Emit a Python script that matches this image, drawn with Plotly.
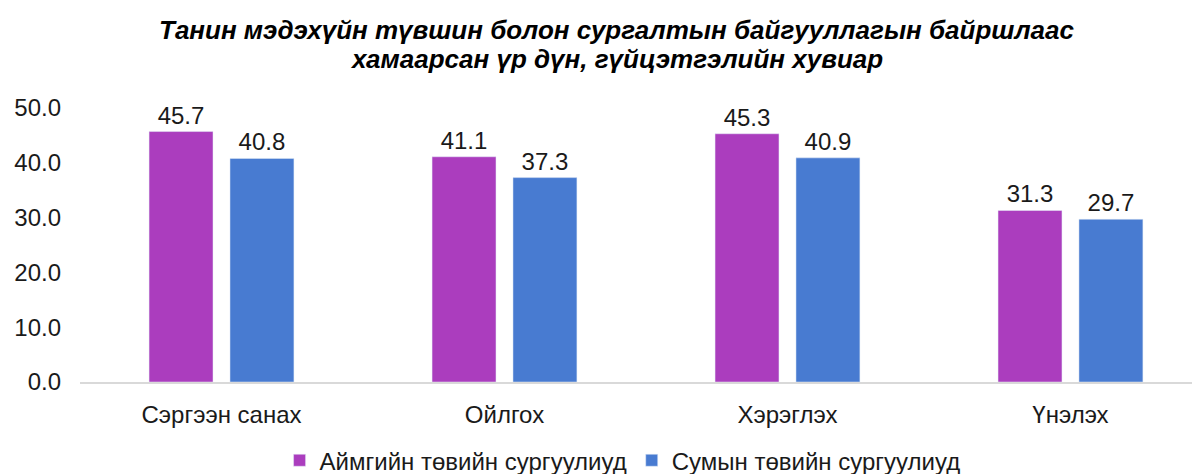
import plotly.graph_objects as go

# Өгөгдөл
categories = ["Сэргээн санах", "Ойлгох", "Хэрэглэх", "Үнэлэх"]
aimag = [45.7, 41.1, 45.3, 31.3]
sum_ = [40.8, 37.3, 40.9, 29.7]
series_names = ["Аймгийн төвийн сургуулиуд", "Сумын төвийн сургуулиуд"]
y_ticks = [0, 10, 20, 30, 40, 50]
title_lines = [
    "Танин мэдэхүйн түвшин болон сургалтын байгууллагын байршлаас",
    "хамаарсан үр дүн, гүйцэтгэлийн хувиар",
]

FONT = "Liberation Sans, Arial, sans-serif"

fig = go.Figure()

fig.add_trace(go.Bar(
    x=categories, y=aimag, name=series_names[0],
    marker_color="#AB3DBE",
    text=[f"{v:.1f}" for v in aimag], textposition="outside",
    textfont=dict(size=24, color="#1a1a1a"),
    cliponaxis=False,
))
fig.add_trace(go.Bar(
    x=categories, y=sum_, name=series_names[1],
    marker_color="#487BD1",
    text=[f"{v:.1f}" for v in sum_], textposition="outside",
    textfont=dict(size=24, color="#1a1a1a"),
    cliponaxis=False,
))

# гарчиг — хоёр мөр
for txt, yy in zip(title_lines, [1.285, 1.18]):
    fig.add_annotation(
        text=txt, xref="paper", yref="paper", x=0.476, y=yy,
        xanchor="center", yanchor="middle", showarrow=False,
        font=dict(family=FONT, size=26, color="black", weight="bold", style="italic"),
    )

fig.update_layout(
    width=1200, height=474,
    paper_bgcolor="white", plot_bgcolor="white",
    font=dict(family=FONT, size=24, color="#1a1a1a"),
    margin=dict(l=72, r=0, t=100, b=100, autoexpand=False),
    barmode="group", bargap=0.428, bargroupgap=0.21,
    showlegend=True,
    legend=dict(
        orientation="h", x=0.481, xanchor="center", y=-0.287, yanchor="middle",
        font=dict(size=24, color="#1a1a1a"), itemwidth=30,
        traceorder="normal",
    ),
    xaxis=dict(
        type="category", range=[-0.5, 3.486],
        showline=True, linecolor="#D9D9D9", linewidth=2,
        showgrid=False, ticks="", ticklabelstandoff=10,
    ),
    yaxis=dict(
        range=[0, 50], tickvals=y_ticks, tickformat=".1f",
        showgrid=False, showline=False, zeroline=False,
        ticks="", ticklabelstandoff=18,
    ),
)

fig.write_html("out.html")
